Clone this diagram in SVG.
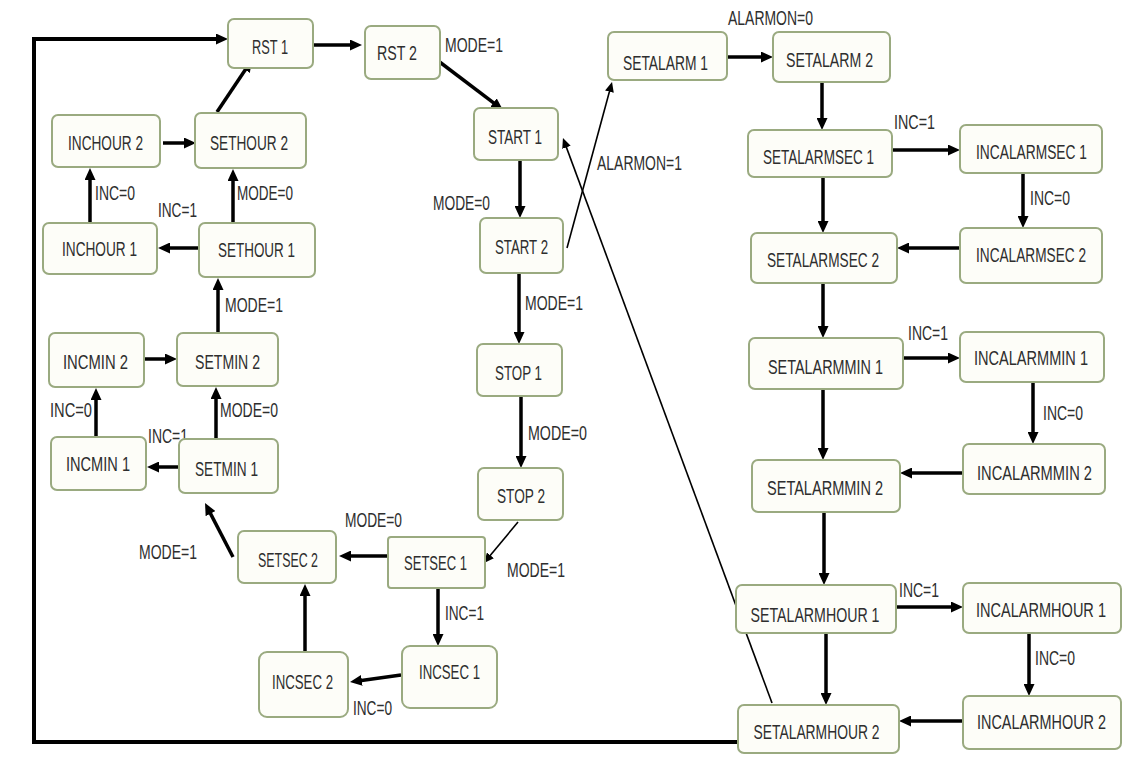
<svg xmlns="http://www.w3.org/2000/svg" width="1146" height="768" viewBox="0 0 1146 768">
<style>
.box{fill:#fdfdf8;stroke:#9aaa80;stroke-width:2}
.t{font-family:"Liberation Sans",Arial,sans-serif;font-size:20px;fill:#2e2e2e}
.m{text-anchor:middle}
.c{fill:none;stroke:#000;stroke-width:3.5}
.th{fill:none;stroke:#000;stroke-width:1.6}
</style>
<defs>
<marker id="a" markerUnits="userSpaceOnUse" markerWidth="12" markerHeight="11" refX="4" refY="5.5" orient="auto"><path d="M0,0 L12,5.5 L0,11 z" fill="#000"/></marker>
<marker id="s" markerUnits="userSpaceOnUse" markerWidth="10" markerHeight="9" refX="3" refY="4.5" orient="auto"><path d="M0,0 L10,4.5 L0,9 z" fill="#000"/></marker>
</defs>
<rect width="1146" height="768" fill="#fff"/>
<g id="connectors">
<path class="c" style="stroke-width:4" d="M738,742 H34 V39 H220" marker-end="url(#a)"/>
<path class="c" d="M313,45 H354" marker-end="url(#a)"/>
<path class="c" d="M437,60 L496.6,105.2" marker-end="url(#a)"/>
<path class="c" d="M217,112 L247.5,66.6" marker-end="url(#a)"/>
<path class="c" d="M163,143 H188" marker-end="url(#a)"/>
<path class="c" d="M90,223 V176" marker-end="url(#a)"/>
<path class="c" d="M233,223 V177" marker-end="url(#a)"/>
<path class="c" d="M199,248 H166" marker-end="url(#a)"/>
<path class="c" d="M218,333 V286" marker-end="url(#a)"/>
<path class="c" d="M145,359 H169" marker-end="url(#a)"/>
<path class="c" d="M96,437 V396" marker-end="url(#a)"/>
<path class="c" d="M216,439 V395" marker-end="url(#a)"/>
<path class="c" d="M179,467 H155" marker-end="url(#a)"/>
<path class="c" d="M233,557 L208.7,510.1" marker-end="url(#a)"/>
<path class="c" d="M388,556 H347" marker-end="url(#a)"/>
<path class="th" d="M518,522 L488.5,557.6" marker-end="url(#s)"/>
<path class="c" d="M438,588 V638" marker-end="url(#a)"/>
<path class="c" d="M401,675 L357.9,680.9" marker-end="url(#a)"/>
<path class="c" d="M305,652 V592" marker-end="url(#a)"/>
<path class="c" d="M520,160 V210" marker-end="url(#a)"/>
<path class="th" d="M567,248 L610.2,88.8" marker-end="url(#s)"/>
<path class="th" d="M772,703 L565.4,144.6" marker-end="url(#s)"/>
<path class="c" d="M519,273 V336" marker-end="url(#a)"/>
<path class="c" d="M521,396 V460" marker-end="url(#a)"/>
<path class="c" d="M727,57 H765" marker-end="url(#a)"/>
<path class="c" d="M822,82 V122" marker-end="url(#a)"/>
<path class="c" d="M892,150 H952" marker-end="url(#a)"/>
<path class="c" d="M1023,173 V220" marker-end="url(#a)"/>
<path class="c" d="M960,248 H905" marker-end="url(#a)"/>
<path class="c" d="M823,177 V225" marker-end="url(#a)"/>
<path class="c" d="M823,283 V330" marker-end="url(#a)"/>
<path class="c" d="M903,358 H952" marker-end="url(#a)"/>
<path class="c" d="M1033,382 V436" marker-end="url(#a)"/>
<path class="c" d="M963,473 H908" marker-end="url(#a)"/>
<path class="c" d="M823,389 V452" marker-end="url(#a)"/>
<path class="c" d="M824,512 V577" marker-end="url(#a)"/>
<path class="c" d="M896,607 H955" marker-end="url(#a)"/>
<path class="c" d="M1029,633 V688" marker-end="url(#a)"/>
<path class="c" d="M963,721 H907" marker-end="url(#a)"/>
<path class="c" d="M826,633 V697" marker-end="url(#a)"/>
</g>
<g id="labels">
<text class="t" x="445" y="52" textLength="58" lengthAdjust="spacingAndGlyphs">MODE=1</text>
<text class="t" x="95" y="200" textLength="40" lengthAdjust="spacingAndGlyphs">INC=0</text>
<text class="t" x="158" y="217" textLength="39" lengthAdjust="spacingAndGlyphs">INC=1</text>
<text class="t" x="237" y="200" textLength="56" lengthAdjust="spacingAndGlyphs">MODE=0</text>
<text class="t" x="225" y="312" textLength="58" lengthAdjust="spacingAndGlyphs">MODE=1</text>
<text class="t" x="50" y="417" textLength="42" lengthAdjust="spacingAndGlyphs">INC=0</text>
<text class="t" x="220" y="417" textLength="58" lengthAdjust="spacingAndGlyphs">MODE=0</text>
<text class="t" x="148" y="443" textLength="40" lengthAdjust="spacingAndGlyphs">INC=1</text>
<text class="t" x="139" y="559" textLength="58" lengthAdjust="spacingAndGlyphs">MODE=1</text>
<text class="t" x="345" y="527" textLength="57" lengthAdjust="spacingAndGlyphs">MODE=0</text>
<text class="t" x="507" y="577" textLength="58" lengthAdjust="spacingAndGlyphs">MODE=1</text>
<text class="t" x="445" y="620" textLength="39" lengthAdjust="spacingAndGlyphs">INC=1</text>
<text class="t" x="353" y="715" textLength="39" lengthAdjust="spacingAndGlyphs">INC=0</text>
<text class="t" x="433" y="210" textLength="57" lengthAdjust="spacingAndGlyphs">MODE=0</text>
<text class="t" x="597" y="170" textLength="85" lengthAdjust="spacingAndGlyphs">ALARMON=1</text>
<text class="t" x="728" y="25" textLength="85" lengthAdjust="spacingAndGlyphs">ALARMON=0</text>
<text class="t" x="525" y="310" textLength="58" lengthAdjust="spacingAndGlyphs">MODE=1</text>
<text class="t" x="528" y="440" textLength="59" lengthAdjust="spacingAndGlyphs">MODE=0</text>
<text class="t" x="894" y="129" textLength="41" lengthAdjust="spacingAndGlyphs">INC=1</text>
<text class="t" x="1030" y="205" textLength="40" lengthAdjust="spacingAndGlyphs">INC=0</text>
<text class="t" x="908" y="340" textLength="40" lengthAdjust="spacingAndGlyphs">INC=1</text>
<text class="t" x="1043" y="420" textLength="40" lengthAdjust="spacingAndGlyphs">INC=0</text>
<text class="t" x="899" y="597" textLength="40" lengthAdjust="spacingAndGlyphs">INC=1</text>
<text class="t" x="1035" y="665" textLength="40" lengthAdjust="spacingAndGlyphs">INC=0</text>
</g>
<g id="RST1"><rect class="box" x="228" y="19" width="85" height="49" rx="6"/><text class="t m" x="270" y="54" textLength="36" lengthAdjust="spacingAndGlyphs">RST 1</text></g>
<g id="RST2"><rect class="box" x="365" y="26" width="75" height="53" rx="6"/><text class="t m" x="397" y="60" textLength="40" lengthAdjust="spacingAndGlyphs">RST 2</text></g>
<g id="INCHOUR2"><rect class="box" x="52" y="115" width="108" height="52" rx="6"/><text class="t m" x="105.5" y="150" textLength="75" lengthAdjust="spacingAndGlyphs">INCHOUR 2</text></g>
<g id="SETHOUR2"><rect class="box" x="195" y="113" width="111" height="55" rx="6"/><text class="t m" x="249" y="150" textLength="78" lengthAdjust="spacingAndGlyphs">SETHOUR 2</text></g>
<g id="INCHOUR1"><rect class="box" x="43" y="223" width="114" height="51" rx="6"/><text class="t m" x="99.5" y="256" textLength="75" lengthAdjust="spacingAndGlyphs">INCHOUR 1</text></g>
<g id="SETHOUR1"><rect class="box" x="199" y="223" width="116" height="54" rx="6"/><text class="t m" x="256.5" y="257" textLength="77" lengthAdjust="spacingAndGlyphs">SETHOUR 1</text></g>
<g id="INCMIN2"><rect class="box" x="49" y="333" width="95" height="54" rx="6"/><text class="t m" x="95.5" y="369" textLength="65" lengthAdjust="spacingAndGlyphs">INCMIN 2</text></g>
<g id="SETMIN2"><rect class="box" x="177" y="333" width="101" height="53" rx="6"/><text class="t m" x="227.5" y="369" textLength="65" lengthAdjust="spacingAndGlyphs">SETMIN 2</text></g>
<g id="INCMIN1"><rect class="box" x="51" y="437" width="95" height="53" rx="6"/><text class="t m" x="98" y="471" textLength="64" lengthAdjust="spacingAndGlyphs">INCMIN 1</text></g>
<g id="SETMIN1"><rect class="box" x="179" y="439" width="99" height="54" rx="6"/><text class="t m" x="226.5" y="476" textLength="63" lengthAdjust="spacingAndGlyphs">SETMIN 1</text></g>
<g id="SETSEC2"><rect class="box" x="238" y="531" width="98" height="52" rx="6"/><text class="t m" x="288" y="567" textLength="60" lengthAdjust="spacingAndGlyphs">SETSEC 2</text></g>
<g id="SETSEC1"><rect class="box" x="388" y="537" width="97" height="51" rx="3"/><text class="t m" x="435.5" y="570" textLength="63" lengthAdjust="spacingAndGlyphs">SETSEC 1</text></g>
<g id="INCSEC1"><rect class="box" x="402" y="646" width="95" height="62" rx="8"/><text class="t m" x="449.5" y="679" textLength="61" lengthAdjust="spacingAndGlyphs">INCSEC 1</text></g>
<g id="INCSEC2"><rect class="box" x="259" y="652" width="89" height="65" rx="8"/><text class="t m" x="302.5" y="689" textLength="61" lengthAdjust="spacingAndGlyphs">INCSEC 2</text></g>
<g id="START1"><rect class="box" x="474" y="108" width="84" height="52" rx="6"/><text class="t m" x="515" y="144" textLength="54" lengthAdjust="spacingAndGlyphs">START 1</text></g>
<g id="START2"><rect class="box" x="480" y="218" width="83" height="55" rx="6"/><text class="t m" x="521.5" y="254" textLength="53" lengthAdjust="spacingAndGlyphs">START 2</text></g>
<g id="STOP1"><rect class="box" x="477" y="344" width="85" height="52" rx="6"/><text class="t m" x="518.5" y="380" textLength="47" lengthAdjust="spacingAndGlyphs">STOP 1</text></g>
<g id="STOP2"><rect class="box" x="478" y="468" width="85" height="52" rx="6"/><text class="t m" x="521" y="503" textLength="48" lengthAdjust="spacingAndGlyphs">STOP 2</text></g>
<g id="SETALARM1"><rect class="box" x="608" y="32" width="119" height="48" rx="6"/><text class="t m" x="665.5" y="70" textLength="85" lengthAdjust="spacingAndGlyphs">SETALARM 1</text></g>
<g id="SETALARM2"><rect class="box" x="773" y="32" width="117" height="50" rx="6"/><text class="t m" x="829.5" y="67" textLength="87" lengthAdjust="spacingAndGlyphs">SETALARM 2</text></g>
<g id="SETALARMSEC1"><rect class="box" x="748" y="130" width="144" height="47" rx="6"/><text class="t m" x="818.5" y="164" textLength="111" lengthAdjust="spacingAndGlyphs">SETALARMSEC 1</text></g>
<g id="INCALARMSEC1"><rect class="box" x="960" y="125" width="142" height="48" rx="6"/><text class="t m" x="1031.5" y="159" textLength="111" lengthAdjust="spacingAndGlyphs">INCALARMSEC 1</text></g>
<g id="INCALARMSEC2"><rect class="box" x="960" y="228" width="142" height="55" rx="6"/><text class="t m" x="1031" y="262" textLength="110" lengthAdjust="spacingAndGlyphs">INCALARMSEC 2</text></g>
<g id="SETALARMSEC2"><rect class="box" x="751" y="233" width="146" height="50" rx="6"/><text class="t m" x="823" y="267" textLength="112" lengthAdjust="spacingAndGlyphs">SETALARMSEC 2</text></g>
<g id="SETALARMMIN1"><rect class="box" x="749" y="338" width="154" height="51" rx="6"/><text class="t m" x="825.5" y="374" textLength="115" lengthAdjust="spacingAndGlyphs">SETALARMMIN 1</text></g>
<g id="INCALARMMIN1"><rect class="box" x="960" y="332" width="144" height="50" rx="6"/><text class="t m" x="1031" y="365" textLength="114" lengthAdjust="spacingAndGlyphs">INCALARMMIN 1</text></g>
<g id="INCALARMMIN2"><rect class="box" x="963" y="444" width="142" height="50" rx="6"/><text class="t m" x="1034.5" y="480" textLength="115" lengthAdjust="spacingAndGlyphs">INCALARMMIN 2</text></g>
<g id="SETALARMMIN2"><rect class="box" x="752" y="460" width="148" height="52" rx="6"/><text class="t m" x="825" y="495" textLength="116" lengthAdjust="spacingAndGlyphs">SETALARMMIN 2</text></g>
<g id="SETALARMHOUR1"><rect class="box" x="736" y="585" width="160" height="48" rx="6"/><text class="t m" transform="translate(815,622) scale(0.709,1)">SETALARMHOUR 1</text></g>
<g id="INCALARMHOUR1"><rect class="box" x="963" y="583" width="158" height="50" rx="6"/><text class="t m" transform="translate(1041,617) scale(0.727,1)">INCALARMHOUR 1</text></g>
<g id="INCALARMHOUR2"><rect class="box" x="963" y="696" width="158" height="53" rx="6"/><text class="t m" transform="translate(1041.5,729) scale(0.721,1)">INCALARMHOUR 2</text></g>
<g id="SETALARMHOUR2"><rect class="box" x="738" y="705" width="161" height="48" rx="6"/><text class="t m" transform="translate(816.5,739) scale(0.693,1)">SETALARMHOUR 2</text></g>
</svg>
